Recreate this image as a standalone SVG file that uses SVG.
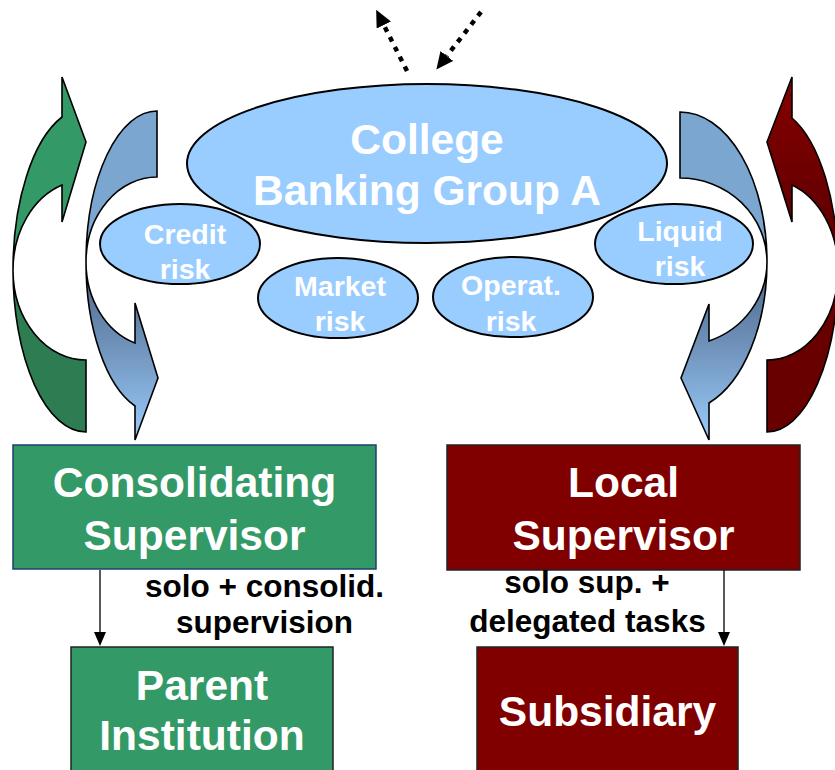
<svg xmlns="http://www.w3.org/2000/svg" width="835" height="770" viewBox="0 0 835 770">
<defs>
<style>
.lbl{font-family:"Liberation Sans",Arial,sans-serif;font-weight:bold;fill:#fff;text-anchor:middle}
.big{font-size:42.5px}
.sm{font-size:28.5px}
.note{font-family:"Liberation Sans",Arial,sans-serif;font-weight:bold;font-size:31.5px;fill:#000;text-anchor:middle}
.ell{fill:#99CCFF;stroke:#000;stroke-width:2}
.arr{stroke:#000;stroke-width:1.6;stroke-linejoin:miter}
.dot{stroke:#000;stroke-width:4.5;stroke-dasharray:5 6;fill:none}
.con{stroke:#000;stroke-width:1.3;fill:none}
</style>
<linearGradient id="blueFront" x1="0" y1="0" x2="0" y2="1">
<stop offset="0" stop-color="#4B6485"/>
<stop offset="0.45" stop-color="#6E90B8"/>
<stop offset="1" stop-color="#9ACCFC"/>
</linearGradient>
<linearGradient id="redFront" x1="0" y1="0" x2="0" y2="1">
<stop offset="0" stop-color="#860000"/>
<stop offset="1" stop-color="#560000"/>
</linearGradient>
<marker id="hd" markerUnits="userSpaceOnUse" markerWidth="17" markerHeight="16" refX="0" refY="8" orient="auto" viewBox="0 0 17 16">
<path d="M0,0 L17,8 L0,16 Z" fill="#000"/>
</marker>
<marker id="ha" markerUnits="userSpaceOnUse" markerWidth="14" markerHeight="12" refX="0" refY="6" orient="auto" viewBox="0 0 14 12">
<path d="M0,0 L14,6 L0,12 Z" fill="#000"/>
</marker>
</defs>

<g id="arrow-green">
<path class="arr" fill="#2E7D52" d="M86,432 A73,162 0 0 1 13,270 A73,90 0 0 0 86,360 Z"/>
<path class="arr" fill="#339966" d="M13,270 A73,162 0 0 1 62,117 L62,77 L86,142 L62,222 L62,185 A73,90 0 0 0 13,270 Z"/>
</g>
<g id="arrow-blue-left">
<path class="arr" fill="#7BA6D0" d="M157,111 A71,151 0 0 0 86,262 A71,85 0 0 1 157,177 Z"/>
<path class="arr" fill="url(#blueFront)" d="M86,262 A71,151 0 0 0 135,406 L135,440 L158,378 L135,303 L135,343 A71,85 0 0 1 86,262 Z"/>
</g>
<g id="arrow-blue-right">
<path class="arr" fill="#7BA6D0" d="M680,112 A87,150 0 0 1 767,262 A87,84 0 0 0 680,178 Z"/>
<path class="arr" fill="url(#blueFront)" d="M767,262 A87,150 0 0 1 709,403 L709,440 L681,378 L709,304 L709,341 A87,84 0 0 0 767,262 Z"/>
</g>
<g id="arrow-red">
<path class="arr" fill="#690000" d="M767,432 A71,162 0 0 0 838,270 A71,90 0 0 1 767,360 Z"/>
<path class="arr" fill="url(#redFront)" d="M838,270 A71,162 0 0 0 792,118 L792,77 L767,142 L792,222 L792,185 A71,90 0 0 1 838,270 Z"/>
</g>

<g id="college">
<ellipse class="ell" cx="427" cy="163.5" rx="240" ry="79.5"/>
<text class="lbl big" x="427" y="154">College</text>
<text class="lbl big" x="427" y="205">Banking Group A</text>
</g>
<g id="credit-risk">
<ellipse class="ell" cx="180" cy="244" rx="80" ry="40"/>
<text class="lbl sm" x="185" y="244">Credit</text>
<text class="lbl sm" x="185" y="279">risk</text>
</g>
<g id="market-risk">
<ellipse class="ell" cx="338" cy="298" rx="80" ry="40"/>
<text class="lbl sm" x="340" y="296">Market</text>
<text class="lbl sm" x="340" y="331">risk</text>
</g>
<g id="operat-risk">
<ellipse class="ell" cx="513" cy="297" rx="80" ry="40"/>
<text class="lbl sm" x="511" y="295">Operat.</text>
<text class="lbl sm" x="511" y="331">risk</text>
</g>
<g id="liquid-risk">
<ellipse class="ell" cx="674" cy="244" rx="79" ry="40"/>
<text class="lbl sm" x="680" y="241">Liquid</text>
<text class="lbl sm" x="680" y="276">risk</text>
</g>

<g id="consolidating-supervisor">
<rect x="13" y="445" width="363" height="124" fill="#339966" stroke="#1F3F6F" stroke-width="1.5"/>
<text class="lbl big" x="194.5" y="497">Consolidating</text>
<text class="lbl big" x="194.5" y="550">Supervisor</text>
</g>
<g id="local-supervisor">
<rect x="447" y="445" width="353" height="125" fill="#800000" stroke="#222" stroke-width="1.5"/>
<text class="lbl big" x="623.5" y="497">Local</text>
<text class="lbl big" x="623.5" y="550">Supervisor</text>
</g>
<g id="parent-institution">
<rect x="71" y="647" width="262" height="140" fill="#339966" stroke="#222" stroke-width="1.5"/>
<text class="lbl big" x="202" y="700">Parent</text>
<text class="lbl big" x="202" y="750">Institution</text>
</g>
<g id="subsidiary">
<rect x="477" y="647" width="261" height="140" fill="#800000" stroke="#222" stroke-width="1.5"/>
<text class="lbl big" x="607.5" y="726">Subsidiary</text>
</g>

<g id="connectors">
<line class="dot" x1="407" y1="71" x2="383.8" y2="25" marker-end="url(#hd)"/>
<line class="dot" x1="481" y1="12" x2="446.8" y2="56" marker-end="url(#hd)"/>
<line class="con" x1="100" y1="570" x2="100" y2="632" marker-end="url(#ha)"/>
<line class="con" x1="724" y1="570" x2="724" y2="632" marker-end="url(#ha)"/>
<text class="note" x="264.5" y="597">solo + consolid.</text>
<text class="note" x="264.5" y="633">supervision</text>
<text class="note" x="587" y="593">solo sup. +</text>
<text class="note" x="587.5" y="632">delegated tasks</text>
</g>
</svg>
